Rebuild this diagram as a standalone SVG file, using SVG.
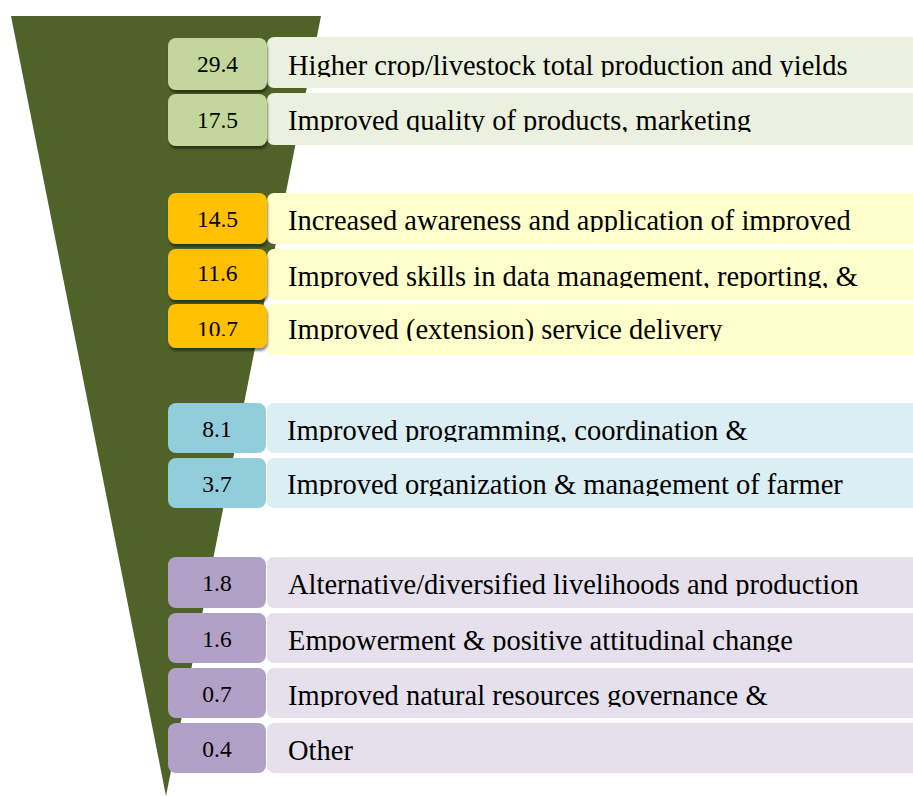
<svg xmlns="http://www.w3.org/2000/svg" width="913" height="796" viewBox="0 0 913 796">
  <style>
    .lbl { font-family: "Liberation Serif", "Times New Roman", serif; font-size: 28.5px; fill: #000; }
    .num { font-family: "Liberation Serif", "Times New Roman", serif; font-size: 23.5px; fill: #000; text-anchor: middle; }
    .bar { stroke: none; }
    .g1 .val { fill: #C3D69B; } .g1 .bar { fill: #EBF1DE; }
    .g2 .val { fill: #FFC000; } .g2 .bar { fill: #FFFFCC; }
    .g3 .val { fill: #92CDDC; } .g3 .bar { fill: #DAEEF3; }
    .g4 .val { fill: #B2A1C7; } .g4 .bar { fill: #E5E0EC; }
  </style>
  <defs>
    <filter id="shadow" x="-10%" y="-10%" width="130%" height="140%">
      <feDropShadow dx="1" dy="3" stdDeviation="1" flood-color="#000" flood-opacity="0.45"/>
    </filter>
    <!-- label lines are cut just under the baseline -->
    <clipPath id="c1"><rect x="267" y="37" width="660" height="40"/></clipPath>
    <clipPath id="c2"><rect x="267" y="93" width="660" height="39"/></clipPath>
    <clipPath id="c3"><rect x="267" y="193" width="660" height="39"/></clipPath>
    <clipPath id="c4"><rect x="267" y="249" width="660" height="39"/></clipPath>
    <clipPath id="c5"><rect x="267" y="304" width="660" height="37"/></clipPath>
    <clipPath id="c6"><rect x="267" y="403" width="660" height="39"/></clipPath>
    <clipPath id="c7"><rect x="267" y="458" width="660" height="38"/></clipPath>
    <clipPath id="c8"><rect x="267" y="557" width="660" height="39"/></clipPath>
    <clipPath id="c9"><rect x="267" y="613" width="660" height="39"/></clipPath>
    <clipPath id="c10"><rect x="267" y="668" width="660" height="39"/></clipPath>
    <clipPath id="c11"><rect x="267" y="723" width="660" height="40"/></clipPath>
    <clipPath id="n5"><rect x="168" y="304" width="100" height="32"/></clipPath>
  </defs>

  <!-- funnel -->
  <polygon id="funnel" points="11,16 321,16 166,796" fill="#4F6228"/>

  <g id="connectors"/>

  <!-- group 1 -->
  <g class="g1">
    <g id="row-29-4">
      <rect class="bar" x="267" y="37" width="660" height="51" rx="7"/>
      <rect class="val" x="168" y="38" width="99" height="52" rx="8" filter="url(#shadow)"/>
      <text class="num" x="217.5" y="72">29.4</text>
      <text class="lbl" x="288" y="75" clip-path="url(#c1)">Higher crop/livestock total production and yields</text>
    </g>
    <g id="row-17-5">
      <rect class="bar" x="267" y="93" width="660" height="52" rx="7"/>
      <rect class="val" x="168" y="94" width="99" height="52" rx="8" filter="url(#shadow)"/>
      <text class="num" x="217.5" y="128">17.5</text>
      <text class="lbl" x="288" y="130" clip-path="url(#c2)">Improved quality of products, marketing</text>
    </g>
  </g>

  <!-- group 2 -->
  <g class="g2">
    <g id="row-14-5">
      <rect class="bar" x="267" y="193" width="660" height="51" rx="7"/>
      <rect class="val" x="168" y="193" width="99" height="51" rx="8" filter="url(#shadow)"/>
      <text class="num" x="217.5" y="227">14.5</text>
      <text class="lbl" x="288" y="230" clip-path="url(#c3)">Increased awareness and application of improved</text>
    </g>
    <g id="row-11-6">
      <rect class="bar" x="267" y="249" width="660" height="51" rx="7"/>
      <rect class="val" x="168" y="249" width="99" height="51" rx="8" filter="url(#shadow)"/>
      <text class="num" x="217.5" y="281">11.6</text>
      <text class="lbl" x="288" y="286" clip-path="url(#c4)">Improved skills in data management, reporting, &amp;</text>
    </g>
    <g id="row-10-7">
      <rect class="bar" x="267" y="304" width="660" height="51" rx="7"/>
      <rect class="val" x="168" y="304" width="99" height="44" rx="8" filter="url(#shadow)"/>
      <text class="num" x="217.5" y="337" clip-path="url(#n5)">10.7</text>
      <text class="lbl" x="288" y="339" clip-path="url(#c5)">Improved (extension) service delivery</text>
    </g>
  </g>

  <!-- group 3 -->
  <g class="g3">
    <g id="row-8-1">
      <rect class="bar" x="267" y="403" width="660" height="50" rx="7"/>
      <rect class="val" x="168" y="403" width="98" height="50" rx="8"/>
      <text class="num" x="217" y="437">8.1</text>
      <text class="lbl" x="287" y="440" clip-path="url(#c6)">Improved programming, coordination &amp;</text>
    </g>
    <g id="row-3-7">
      <rect class="bar" x="267" y="458" width="660" height="50" rx="7"/>
      <rect class="val" x="168" y="458" width="98" height="50" rx="8"/>
      <text class="num" x="217" y="492">3.7</text>
      <text class="lbl" x="287" y="494" clip-path="url(#c7)">Improved organization &amp; management of farmer</text>
    </g>
  </g>

  <!-- group 4 -->
  <g class="g4">
    <g id="row-1-8">
      <rect class="bar" x="267" y="557" width="660" height="51" rx="7"/>
      <rect class="val" x="168" y="557" width="98" height="51" rx="8"/>
      <text class="num" x="217" y="591">1.8</text>
      <text class="lbl" x="288" y="594" clip-path="url(#c8)">Alternative/diversified livelihoods and production</text>
    </g>
    <g id="row-1-6">
      <rect class="bar" x="267" y="613" width="660" height="50" rx="7"/>
      <rect class="val" x="168" y="613" width="98" height="50" rx="8"/>
      <text class="num" x="217" y="647">1.6</text>
      <text class="lbl" x="288" y="650" clip-path="url(#c9)">Empowerment &amp; positive attitudinal change</text>
    </g>
    <g id="row-0-7">
      <rect class="bar" x="267" y="668" width="660" height="50" rx="7"/>
      <rect class="val" x="168" y="668" width="98" height="50" rx="8"/>
      <text class="num" x="217" y="702">0.7</text>
      <text class="lbl" x="288" y="705" clip-path="url(#c10)">Improved natural resources governance &amp;</text>
    </g>
    <g id="row-0-4">
      <rect class="bar" x="267" y="723" width="660" height="50" rx="7"/>
      <rect class="val" x="168" y="723" width="98" height="50" rx="8"/>
      <text class="num" x="217" y="757">0.4</text>
      <text class="lbl" x="288" y="760" clip-path="url(#c11)">Other</text>
    </g>
  </g>
</svg>
